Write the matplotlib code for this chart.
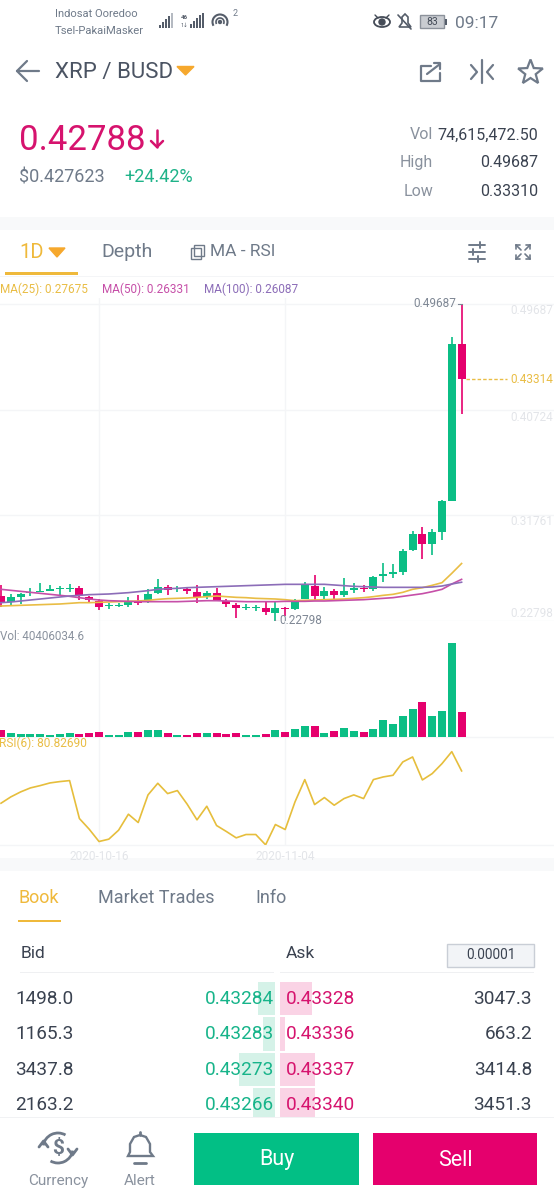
import numpy as np
import matplotlib
matplotlib.use("Agg")
import matplotlib.pyplot as plt
from matplotlib.patches import Rectangle, Polygon, Circle, Arc, Ellipse

plt.rcParams['font.family'] = ['Roboto', 'DejaVu Sans']

GREEN = '#0BBE85'
RED = '#E5006D'
YELLOW = '#E9BD45'
PINK = '#C64FA8'
PURPLE = '#8C6DB8'
GRID = '#F4F5F7'
GREY = '#6F7A89'
DARK = '#3A4250'
FAINT = '#E3E5E9'

# candles, oldest first
opens = [.24947, .24438, .24833, .25173, .25286, .25371, .25512, .25540, .25597, .24833, .24466, .24042,
         .24098, .24183, .24522, .24579, .25144, .25682, .25512, .25540, .25229, .24833, .25144, .24522,
         .24183, .23929, .23901, .23929, .23505, .23872, .23787, .24664, .25795, .24890, .25314, .25003,
         .25399, .25597, .25512, .26586, .26812, .26954, .28791, .30176, .29357, .30374, .32999, .46288]
closes = [.24438, .24833, .25088, .25229, .25371, .25484, .25597, .25625, .25031, .24551, .23985, .24127,
          .24183, .24438, .24325, .25060, .25653, .25455, .25597, .25342, .24862, .25173, .24579, .24212,
          .23872, .24014, .23985, .23533, .23929, .23787, .24409, .25823, .24918, .25314, .25031, .25342,
          .25597, .25484, .26530, .26784, .26954, .28763, .30205, .29357, .30318, .32947, .46288, .43314]
highs = [.25851, .25060, .25201, .25597, .25993, .25823, .25795, .25936, .25766, .24918, .24692, .24296,
         .24325, .24862, .25003, .25540, .26332, .25879, .25795, .25653, .25879, .25371, .25597, .24692,
         .24353, .24268, .24155, .24409, .24494, .24014, .24692, .26106, .26728, .25653, .25540, .26445,
         .25993, .25823, .26586, .27689, .27632, .28933, .30459, .30742, .30601, .33060, .46907, .49687]
lows = [.24014, .24070, .24240, .24918, .25257, .25342, .25031, .25286, .24579, .24381, .23731, .23844,
        .23985, .24014, .24127, .24296, .25116, .25003, .25257, .25060, .24353, .24692, .24494, .23957,
        .23081, .23731, .23646, .23279, .22798, .23222, .23731, .24636, .24579, .24664, .24664, .24805,
        .25201, .25257, .25371, .26134, .26417, .26699, .28706, .28056, .28395, .29668, .32999, .40326]

ma25 = [.24070, .24098, .24127, .24155, .24183, .24212, .24240, .24296, .24353, .24353, .24381, .24409,
        .24438, .24466, .24494, .24551, .24636, .24692, .24720, .24749, .24805, .24862, .24918, .24862,
        .24805, .24777, .24720, .24692, .24664, .24607, .24522, .24551, .24579, .24607, .24636, .24664,
        .24720, .24777, .24862, .24975, .25060, .25229, .25484, .25625, .25823, .26049, .26841, .27675]
ma50 = [.25484, .25399, .25314, .25229, .25144, .25060, .24975, .24890, .24777, .24664, .24579, .24522,
        .24494, .24466, .24438, .24438, .24438, .24438, .24438, .24466, .24494, .24522, .24522, .24494,
        .24466, .24438, .24438, .24438, .24438, .24466, .24466, .24466, .24494, .24494, .24522, .24551,
        .24579, .24607, .24664, .24720, .24777, .24890, .25003, .25116, .25286, .25484, .25936, .26331]
ma100 = [.24353, .24409, .24494, .24579, .24664, .24749, .24833, .24918, .24975, .25031, .25060, .25088,
         .25144, .25201, .25286, .25371, .25484, .25540, .25568, .25625, .25653, .25682, .25710, .25738,
         .25766, .25795, .25823, .25851, .25879, .25908, .25908, .25908, .25908, .25908, .25851, .25795,
         .25738, .25710, .25682, .25653, .25653, .25653, .25653, .25653, .25682, .25766, .25936, .26087]

# volume in millions
volumes = [11.3, 5.9, 5.4, 4.8, 5.4, 3.2, 5.4, 6.5, 4.8, 6.5, 8.1, 3.2, 3.2, 8.6, 8.1, 11.9,
           11.3, 7.0, 3.2, 2.7, 5.9, 5.9, 7.0, 5.4, 7.0, 3.8, 3.2, 5.4, 11.3, 8.1, 12.9, 17.2,
           17.2, 7.0, 10.2, 15.1, 10.2, 8.1, 12.9, 28.0, 20.5, 33.4, 45.8, 56.6, 34.5, 42.6, 150.8, 40.4]

rsi = [61.4, 65.2, 68.2, 70.6, 72.0, 73.6, 74.4, 75.0, 52.2, 45.8, 38.4, 39.8, 45.2, 54.8, 49.8, 66.4,
       73.4, 67.2, 69.0, 60.8, 51.4, 59.6, 48.0, 44.4, 40.6, 42.6, 42.6, 36.4, 48.6, 45.6, 62.2, 75.6,
       60.6, 64.8, 60.2, 64.2, 66.4, 64.2, 75.6, 77.2, 78.2, 86.2, 89.2, 75.4, 79.2, 85.2, 92.4, 80.83]

price_ticks = [.49687, .40724, .31761, .22798]
date_ticks = [10, 29]
date_labels = ['2020-10-16', '2020-11-04']

bid_qty = ['1498.0', '1165.3', '3437.8', '2163.2']
bid_price = ['0.43284', '0.43283', '0.43273', '0.43266']
bid_depth = [17, 12, 36, 22]
ask_price = ['0.43328', '0.43336', '0.43337', '0.43340']
ask_qty = ['3047.3', '663.2', '3414.8', '3451.3']
ask_depth = [32, 5, 35, 35]

W, H = 554, 1200
fig = plt.figure(figsize=(W / 100, H / 100), dpi=100, facecolor='white')


def panel(top, bottom):
    ax = fig.add_axes([0, 1 - bottom / H, 1, (bottom - top) / H])
    ax.patch.set_alpha(0)
    for s in ax.spines.values():
        s.set_visible(False)
    ax.set_xlim(-0.102, 56.43)
    ax.tick_params(length=0, labelleft=False, labelbottom=False)
    ax.set_xticks(date_ticks)
    ax.grid(axis='x', color=GRID, lw=1)
    ax.set_axisbelow(True)
    return ax


# screen furniture in pixel coordinates
ui = fig.add_axes([0, 0, 1, 1])
ui.set_xlim(0, W)
ui.set_ylim(H, 0)
ui.axis('off')


def txt(x, y, s, size, color=DARK, ha='left', **kw):
    # centre on the digits, not on the descender box
    ui.text(x, y + 0.08 * size, s, fontsize=size, color=color, ha=ha, va='center', **kw)


def line(xs, ys, color=GREY, lw=1.5, **kw):
    ui.plot(xs, ys, color=color, lw=lw, solid_capstyle='round', **kw)


def box(x0, y0, x1, y1, color, **kw):
    ui.add_patch(Rectangle((x0, y0), x1 - x0, y1 - y0, facecolor=color, edgecolor='none', **kw))


# status bar
txt(55, 13, 'Indosat Ooredoo', 8, GREY)
txt(55, 30, 'Tsel-PakaiMasker', 8.1, GREY)
for k, h in enumerate([3, 6, 9, 12, 15]):
    box(159 + k * 3, 28 - h, 161 + k * 3, 28, '#555D6A' if k < 4 else '#B5BAC2')
for k, h in enumerate([4, 7, 10, 13, 15]):
    box(190 + k * 3, 28 - h, 192 + k * 3, 28, '#555D6A')
txt(184, 17, '46', 4.5, '#555D6A', ha='center', fontweight='bold')
txt(184, 25, '1↓', 4, '#555D6A', ha='center')
ui.add_patch(Arc((220, 22), 15, 15, theta1=150, theta2=390, color='#555D6A', lw=1.5))
ui.add_patch(Arc((220, 22), 8, 8, theta1=150, theta2=390, color='#555D6A', lw=1.2))
ui.add_patch(Circle((220, 22), 1.5, color='#555D6A'))
txt(233, 13, '2', 6.5, GREY)
ui.add_patch(Ellipse((382, 22), 16, 10, fill=False, ec='#444B57', lw=1.3))
ui.add_patch(Circle((382, 22), 3, color='#444B57'))
line([375, 378], [15, 18], '#444B57', 1)
line([389, 386], [15, 18], '#444B57', 1)
ui.add_patch(Polygon([[399, 27], [402, 23], [402, 17], [405, 14], [408, 17], [408, 23], [411, 27]],
                     fill=False, ec='#555D6A', lw=1.2))
line([398, 411], [15, 29], '#555D6A', 1.2)
ui.add_patch(Rectangle((420, 15), 24, 13, facecolor='#C9CCD1', edgecolor='#8C929B', lw=1))
box(445, 19, 447, 25, '#555D6A')
txt(432, 21.5, '83', 7.5, '#444B57', ha='center')
txt(455, 22, '09:17', 12.5, GREY)

# title row
line([17, 39], [71, 71], GREY, 1.6)
line([27, 17, 27], [61, 71, 81], GREY, 1.6)
txt(55, 71, 'XRP / BUSD', 16, '#4B5463')
ui.add_patch(Polygon([[177, 66.5], [194, 66.5], [185.5, 75]], color='#F6A82D'))
line([431, 421, 421, 440, 440], [66, 66, 81, 81, 73], GREY, 1.6)
line([427, 440], [74, 64], GREY, 1.6)
line([434, 440, 440], [63, 63, 69], GREY, 1.6)
line([482, 482], [60, 83], GREY, 1.6)
line([471, 477, 471], [65, 72, 79], GREY, 1.6)
line([493, 487, 493], [65, 72, 79], GREY, 1.6)
star_ang = np.deg2rad(np.arange(0, 360, 36) - 90)
star_rad = np.array([13, 5.5] * 5)
ui.add_patch(Polygon(np.c_[530.5 + star_rad * np.cos(star_ang), 72.5 + star_rad * np.sin(star_ang)],
                     fill=False, ec=GREY, lw=1.6))

# ticker block
txt(19, 139, '0.42788', 25, '#D6136E')
line([157, 157], [130, 147], '#D6136E', 1.8)
line([151, 157, 163], [141, 147, 141], '#D6136E', 1.8)
txt(19, 176, '$0.427623', 13, GREY)
txt(124, 176, '+24.42%', 13, '#1FB389')
txt(433, 134, 'Vol', 11.5, '#8A929E', ha='right')
txt(538, 134, '74,615,472.50', 11.5, DARK, ha='right')
txt(433, 162, 'High', 11.5, '#8A929E', ha='right')
txt(538, 162, '0.49687', 11.5, DARK, ha='right')
txt(433, 191, 'Low', 11.5, '#8A929E', ha='right')
txt(538, 191, '0.33310', 11.5, DARK, ha='right')
box(0, 217, W, 230, '#F8F9FA')

# chart tabs
txt(19, 251, '1D', 14.5, '#EFB93B')
ui.add_patch(Polygon([[49, 248], [65, 248], [57, 257]], color='#F6A82D'))
txt(101, 251, 'Depth', 14, GREY)
ui.add_patch(Rectangle((191, 248), 10, 11, fill=False, ec=GREY, lw=1))
ui.add_patch(Rectangle((194, 245), 10, 11, fill=False, ec=GREY, lw=1))
txt(210, 250, 'MA - RSI', 12.5, GREY)
box(5, 272, 78, 274.5, '#EFB93B')
box(0, 276, W, 277, '#F4F5F7')
for yy, xm in [(245, 480), (252, 473), (259, 478)]:
    line([469, 485], [yy, yy], GREY, 1.4)
    line([xm, xm], [yy - 3, yy + 3], GREY, 1.4)
for cx, cy, dx, dy in [(516, 245, 1, 1), (530, 245, -1, 1), (516, 259, 1, -1), (530, 259, -1, -1)]:
    line([cx, cx + dx * 5], [cy, cy + dy * 5], GREY, 1.2)
    line([cx, cx + dx * 4], [cy, cy], GREY, 1.2)
    line([cx, cx], [cy, cy + dy * 4], GREY, 1.2)
txt(0, 288.5, 'MA(25): 0.27675', 8.5, YELLOW)
txt(102, 288.5, 'MA(50): 0.26331', 8.5, PINK)
txt(204, 288.5, 'MA(100): 0.26087', 8.5, PURPLE)

# price panel
px_per_price = 105.67 / 0.08963
ax_price = panel(298, 621)
ax_price.set_ylim(0.22798, 0.22798 + (621 - 298) / px_per_price)
ax_price.set_yticks(price_ticks)
ax_price.grid(axis='y', color=GRID, lw=1)
idx = np.arange(len(opens))
colors = [GREEN if c >= o else RED for o, c in zip(opens, closes)]
ax_price.vlines(idx, lows, highs, colors=colors, lw=1.2, zorder=2)
body_low = np.minimum(opens, closes)
body_h = np.abs(np.array(closes) - np.array(opens))
ax_price.bar(idx, body_h, bottom=body_low, width=0.8, color=colors, zorder=3)
ax_price.plot(idx, ma25, color=YELLOW, lw=1.2, zorder=4)
ax_price.plot(idx, ma50, color=PINK, lw=1.2, zorder=4)
ax_price.plot(idx, ma100, color=PURPLE, lw=1.2, zorder=4)

trans = ax_price.get_yaxis_transform()
for p, dy in zip(price_ticks, [0.0055, 0.0065, 0.005, -0.006]):
    ax_price.text(0.998, p - dy, '%.5f' % p, transform=trans, ha='right', va='center',
                  fontsize=8.5, color=FAINT)
ax_price.text(47 - 0.5, 0.49687, '0.49687', ha='right', va='center', fontsize=8.5, color='#7E8794')
ax_price.plot([46.6, 47], [0.49687, 0.49687], color='#7E8794', lw=0.8)
ax_price.plot([28, 28, 28.4], [0.22858, 0.22798, 0.22798], color='#7E8794', lw=0.8, zorder=5)
ax_price.text(28.45, 0.22798, '0.22798', ha='left', va='center', fontsize=8.5, color='#7E8794')
ax_price.plot([47.5, 51.6], [closes[-1], closes[-1]], color=YELLOW, lw=1, ls=(0, (2.5, 1.5)))
ax_price.text(0.998, closes[-1], '0.43314', transform=trans, ha='right', va='center',
              fontsize=8.5, color=YELLOW)

# volume panel
ax_vol = panel(621, 737)
ax_vol.set_ylim(0, 186.9)
ax_vol.axhline(0, color=GRID, lw=1, clip_on=False)
ax_vol.bar(idx, volumes, width=0.8, color=colors, zorder=3)
ax_vol.text(0, 0.87, 'Vol: 40406034.6', transform=ax_vol.transAxes, ha='left', va='center',
            fontsize=8.4, color='#8A929E')

# rsi panel
ax_rsi = panel(737, 844.5)
ax_rsi.set_ylim(36.6, 101.2)
ax_rsi.axhline(36.6, color=GRID, lw=1, clip_on=False)
ax_rsi.plot(idx, rsi, color='#E6BE3C', lw=1.2, zorder=3)
ax_rsi.text(-0.0015, 0.94, 'RSI(6): 80.82690', transform=ax_rsi.transAxes, ha='left', va='center',
            fontsize=8.6, color=YELLOW)
for i, lab in zip(date_ticks, date_labels):
    ax_rsi.text(i, 29.6, lab, ha='center', va='center', fontsize=8.6, color=FAINT, clip_on=False)

box(0, 858, W, 871, '#F8F9FA')

# order book
txt(19, 896.5, 'Book', 13, '#EFB93B')
txt(98, 896.5, 'Market Trades', 13, GREY)
txt(255, 896.5, 'Info', 13, GREY)
box(18, 920, 61, 922, '#EFB93B')
txt(21, 952.5, 'Bid', 12.5, DARK)
txt(286, 952.5, 'Ask', 12.5, DARK)
ui.add_patch(Rectangle((447, 943.5), 87, 23.5, facecolor='#F2F4F7', edgecolor='#C9CED6', lw=1))
txt(490.5, 954.5, '0.00001', 9.8, DARK, ha='center')
box(20, 972, 274, 973, '#EFF0F2')
box(280, 972, 534, 973, '#EFF0F2')
row_top = [982, 1017, 1053, 1088]
row_bot = [1015, 1051, 1086, 1118]
row_mid = [997.5, 1032.5, 1068.5, 1103.5]
for k in range(4):
    box(275 - bid_depth[k], row_top[k], 275, row_bot[k], '#D5F2E8')
    box(280, row_top[k], 280 + ask_depth[k], row_bot[k], '#FAD3E5')
    txt(74, row_mid[k], bid_qty[k], 13.7, DARK, ha='right')
    txt(274, row_mid[k], bid_price[k], 13.7, '#17B48A', ha='right')
    txt(286, row_mid[k], ask_price[k], 13.7, '#D6136E')
    txt(532, row_mid[k], ask_qty[k], 13.7, DARK, ha='right')

# bottom nav
box(0, 1118, W, 1200, 'white', zorder=3)
box(0, 1117, W, 1118, '#F1F2F4', zorder=4)
ui.add_patch(Arc((58, 1148), 30, 30, theta1=190, theta2=300, color=GREY, lw=2, zorder=5))
ui.add_patch(Arc((58, 1148), 30, 30, theta1=10, theta2=120, color=GREY, lw=2, zorder=5))
line([39, 43.5, 48], [1147, 1141, 1147], GREY, 2, zorder=5)
line([68, 72.5, 77], [1149, 1155, 1149], GREY, 2, zorder=5)
ui.text(58, 1148, '$', fontsize=15, color=GREY, ha='center', va='center', fontweight='bold', zorder=5)
ui.add_patch(Polygon([[128, 1156], [130, 1152], [130, 1144], [134, 1137], [140, 1135], [146, 1137],
                      [150, 1144], [150, 1152], [153, 1156]], fill=False, ec=GREY, lw=1.7, zorder=5))
line([134, 146], [1163, 1163], GREY, 2, zorder=5)
line([140, 140], [1132, 1135], GREY, 2, zorder=5)
ui.text(58, 1181, 'Currency', fontsize=11, color='#8A929E', ha='center', va='center', zorder=5)
ui.text(140, 1181, 'Alert', fontsize=11, color='#8A929E', ha='center', va='center', zorder=5)
box(194, 1133, 359, 1185, '#02BF85', zorder=5)
box(373, 1133, 537, 1185, '#E5006D', zorder=5)
ui.text(277, 1160, 'Buy', fontsize=15.5, color='white', ha='center', va='center', zorder=6)
ui.text(455, 1160, 'Sell', fontsize=15.5, color='white', ha='center', va='center', zorder=6)

fig.savefig('out.png', dpi=100)
